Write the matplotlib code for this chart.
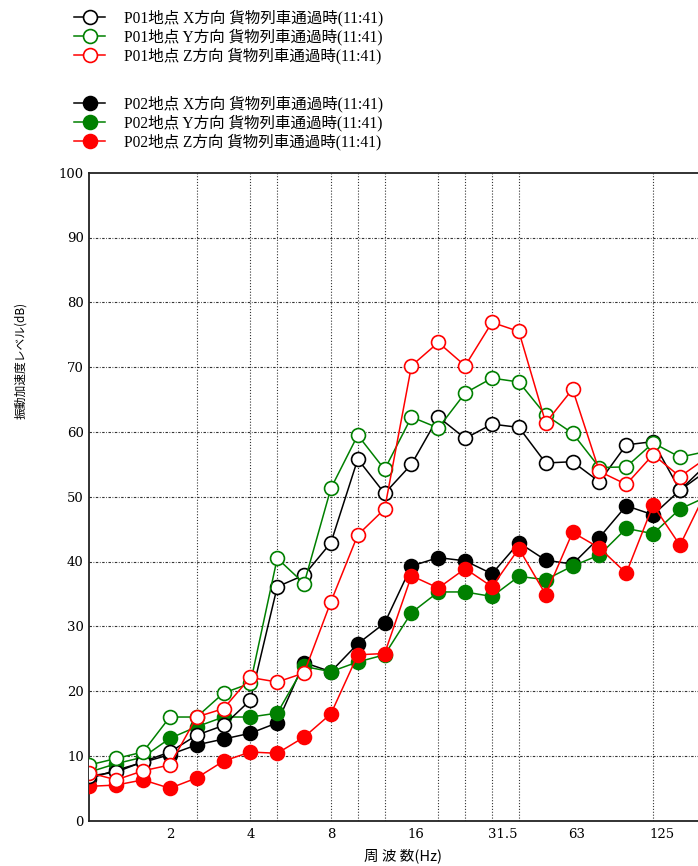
import matplotlib
matplotlib.use("Agg")
import matplotlib.pyplot as plt
from matplotlib.font_manager import FontProperties
from matplotlib.transforms import ScaledTranslation
import numpy as np

plt.rcParams["font.family"] = ["DejaVu Serif", "Noto Sans CJK JP"]

# 1/3 octave band centre frequencies (Hz)
bands = ["1", "1.25", "1.6", "2", "2.5", "3.15", "4", "5", "6.3", "8", "10", "12.5",
         "16", "20", "25", "31.5", "40", "50", "63", "80", "100", "125", "160", "200"]

# Vibration acceleration level (dB) per band
p01_x = [6.9, 7.5, 9.1, 10.6, 13.2, 14.7, 18.6, 36.1, 37.9, 42.9, 55.8, 50.5,
         55.0, 62.3, 59.0, 61.2, 60.7, 55.2, 55.4, 52.3, 58.0, 58.5, 51.0, 55.0]
p01_y = [8.6, 9.6, 10.6, 16.0, 16.0, 19.7, 21.2, 40.5, 36.6, 51.3, 59.5, 54.2,
         62.3, 60.6, 66.0, 68.3, 67.7, 62.6, 59.8, 54.5, 54.6, 58.3, 56.1, 57.0]
p01_z = [7.4, 6.3, 7.7, 8.6, 16.0, 17.3, 22.1, 21.4, 22.8, 33.8, 44.1, 48.1,
         70.2, 73.8, 70.2, 76.9, 75.5, 61.4, 66.6, 53.9, 51.9, 56.5, 53.1, 56.0]
p02_x = [6.5, 7.8, 9.0, 10.2, 11.7, 12.6, 13.5, 15.1, 24.4, 23.0, 27.3, 30.5,
         39.3, 40.6, 40.1, 38.1, 42.9, 40.2, 39.6, 43.7, 48.6, 47.2, 51.0, 54.0]
p02_y = [7.5, 8.8, 9.8, 12.7, 14.5, 16.0, 16.0, 16.6, 23.8, 23.0, 24.5, 25.6,
         32.1, 35.3, 35.3, 34.6, 37.7, 37.2, 39.3, 41.0, 45.1, 44.3, 48.1, 50.0]
p02_z = [5.3, 5.5, 6.3, 5.0, 6.6, 9.2, 10.6, 10.4, 12.9, 16.5, 25.6, 25.8,
         37.8, 35.9, 38.9, 36.1, 42.0, 34.9, 44.5, 42.1, 38.2, 48.7, 42.5, 51.0]

p01_labels = ["P01地点 X方向 貨物列車通過時(11:41)",
              "P01地点 Y方向 貨物列車通過時(11:41)",
              "P01地点 Z方向 貨物列車通過時(11:41)"]
p02_labels = ["P02地点 X方向 貨物列車通過時(11:41)",
              "P02地点 Y方向 貨物列車通過時(11:41)",
              "P02地点 Z方向 貨物列車通過時(11:41)"]
colors = ["#000000", "#008000", "#ff0000"]

tick_bands = ["2", "4", "8", "16", "31.5", "63", "125"]
grid_bands = ["2.5", "4", "5", "8", "10", "12.5", "20", "25", "31.5", "40", "125"]

legend_font = FontProperties(family=["Liberation Serif", "Noto Sans CJK JP"], size=11.2)

fig = plt.figure(figsize=(6.98, 8.66), dpi=100)
ax = fig.add_axes([89.3 / 698, 1 - 820.7 / 866, (706.8 - 89.3) / 698, 648 / 866])

x = np.arange(len(bands))
ms = 10
mew = 1.2
lw = 1.1

p02_handles = []
for vals, c, lab in zip([p02_x, p02_y, p02_z], colors, p02_labels):
    h, = ax.plot(x, vals, color=c, lw=lw, marker="o", ms=ms, mfc=c, mec=c,
                 mew=mew, label=lab, zorder=3)
    p02_handles.append(h)

p01_handles = []
for vals, c, lab in zip([p01_x, p01_y, p01_z], colors, p01_labels):
    h, = ax.plot(x, vals, color=c, lw=lw, marker="o", ms=ms, mfc="white", mec=c,
                 mew=mew, label=lab, zorder=4)
    p01_handles.append(h)

ax.set_xlim(0, 23)
ax.set_ylim(0, 100)

# Horizontal grid lines every 10 dB
ax.set_yticks(np.arange(0, 101, 10))
for yv in range(10, 100, 10):
    ax.axhline(yv, color="#333333", lw=0.8, dashes=(2.2, 1.4, 0.7, 1.4), zorder=1)

# Vertical dotted grid lines at selected bands
for b in grid_bands:
    ax.axvline(bands.index(b), color="#333333", lw=0.8, dashes=(1.0, 1.6), zorder=1)

ax.set_xticks([bands.index(b) for b in tick_bands])
ax.set_xticklabels(tick_bands)
ax.tick_params(axis="both", length=0, labelsize=9.5)
ax.tick_params(axis="y", pad=4)
ax.tick_params(axis="x", pad=5)
offset = ScaledTranslation(-4 / 100, 0, fig.dpi_scale_trans)
for lbl in ax.get_xticklabels():
    lbl.set_horizontalalignment("left")
    lbl.set_transform(lbl.get_transform() + offset)

for side in ["left", "top", "bottom"]:
    ax.spines[side].set_color("#222222")
    ax.spines[side].set_linewidth(1.3)
ax.spines["right"].set_visible(False)

ax.set_xlabel("周 波 数(Hz)", fontfamily=["Noto Sans CJK JP"], fontsize=10.5)
ax.xaxis.set_label_coords((403 - 89.3) / 617.5, -(848 - 820.7) / 648)
ax.set_ylabel("振動加速度レベル(dB)", fontfamily=["Noto Sans CJK JP"], fontsize=8.5)
ax.yaxis.set_label_coords((27 - 89.3) / 617.5, (820.7 - 360) / 648)

leg_kw = dict(loc="upper left", frameon=False, prop=legend_font, handlelength=2.0,
              handletextpad=1.2, borderpad=0, borderaxespad=0, labelspacing=0.14)
fig.legend(handles=p01_handles, labels=p01_labels,
           bbox_to_anchor=(74 / 698, 1 - 10 / 866), **leg_kw)
fig.legend(handles=p02_handles, labels=p02_labels,
           bbox_to_anchor=(74 / 698, 1 - 96 / 866), **leg_kw)

fig.savefig("out.png", dpi=100)
